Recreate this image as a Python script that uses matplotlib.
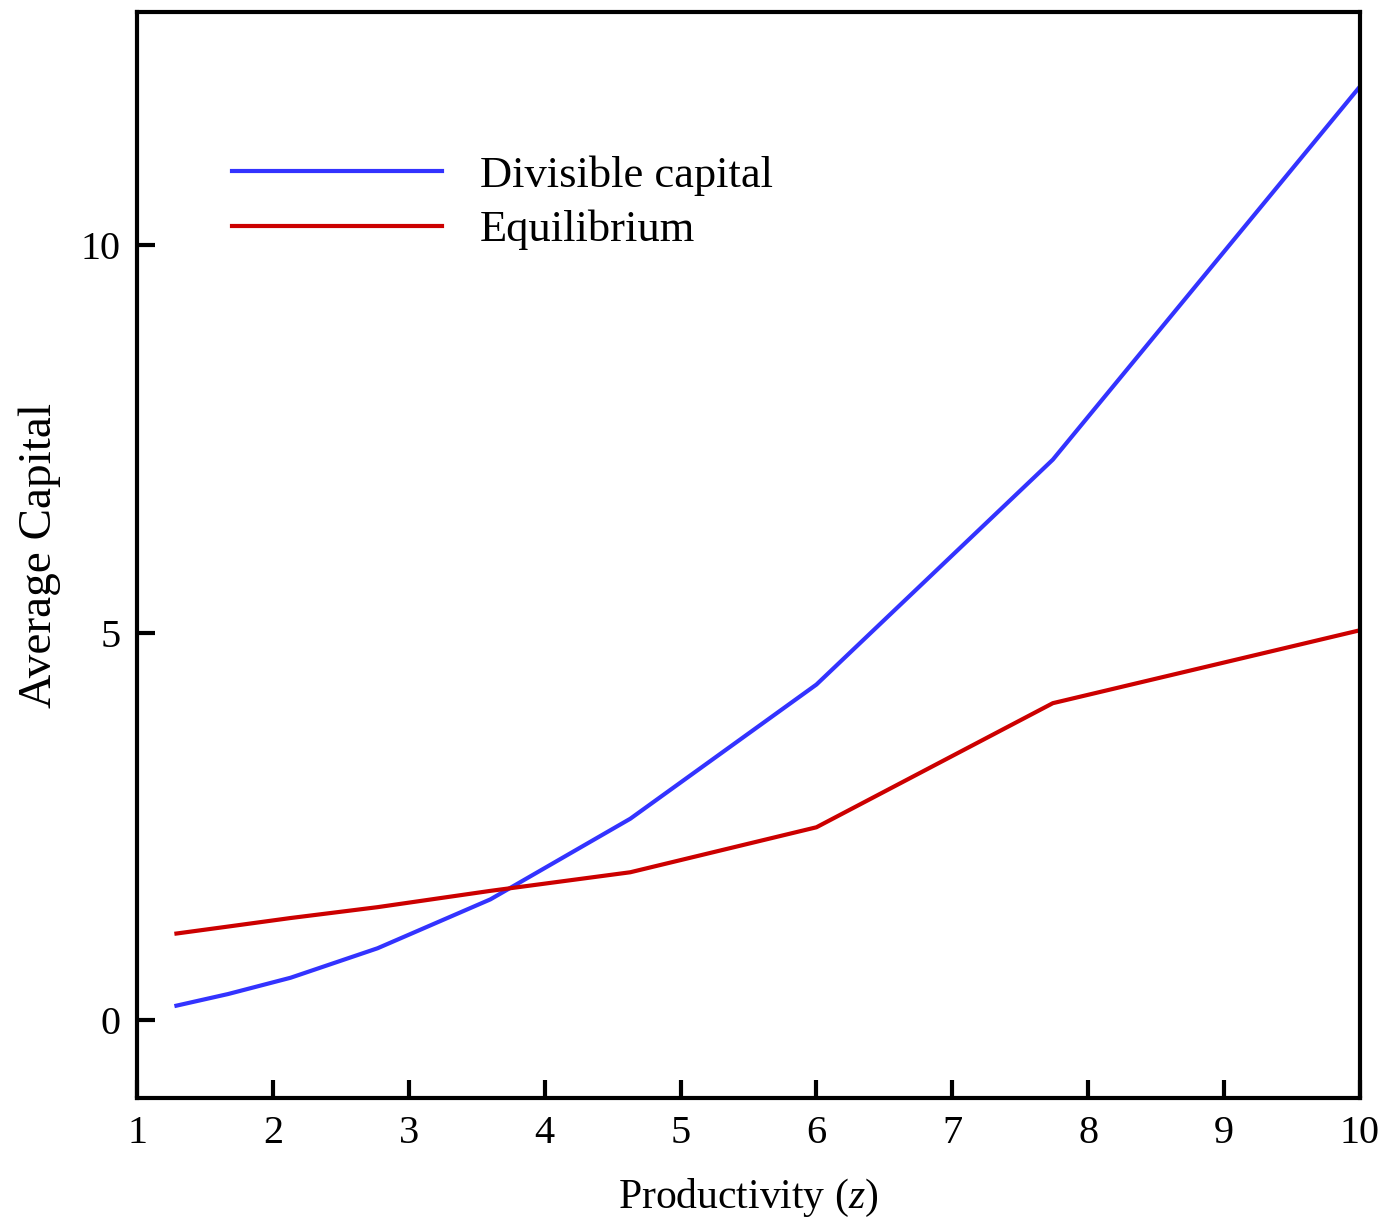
import matplotlib.pyplot as plt

z = [1.29, 1.67, 2.13, 2.77, 3.60, 4.63, 6.00, 7.74, 10.00]
divisible = [0.19, 0.34, 0.55, 0.93, 1.56, 2.60, 4.33, 7.23, 12.04]
equilibrium = [1.12, 1.21, 1.32, 1.46, 1.67, 1.91, 2.49, 4.09, 5.03]

plt.rcParams['font.family'] = ['Liberation Serif', 'DejaVu Serif']
plt.rcParams['mathtext.fontset'] = 'custom'
plt.rcParams['mathtext.it'] = 'Liberation Serif:italic'

fig = plt.figure(figsize=(13.87, 12.17), dpi=100)
ax = fig.add_axes([0.0988, 0.0978, 0.8817, 0.8923])

ax.plot(z, divisible, color='#3333ff', lw=3, label='Divisible capital')
ax.plot(z, equilibrium, color='#cc0000', lw=3, label='Equilibrium')

ax.set_xlim(1, 10)
ax.set_ylim(-1, 13)
ax.set_xticks(range(1, 11))
ax.set_yticks([0, 5, 10])
ax.tick_params(direction='in', length=13, width=3, labelsize=29, pad=12)
for s in ax.spines.values():
    s.set_linewidth(3)

ax.set_xlabel('Productivity ($z$)', fontsize=30, labelpad=18)
ax.set_ylabel('Average Capital', fontsize=34, labelpad=14)

ax.legend(loc='upper left', bbox_to_anchor=(0.045, 0.905), frameon=False,
          fontsize=32, handlelength=4.72, handletextpad=0.86, labelspacing=0.32)

fig.savefig('out.png')
